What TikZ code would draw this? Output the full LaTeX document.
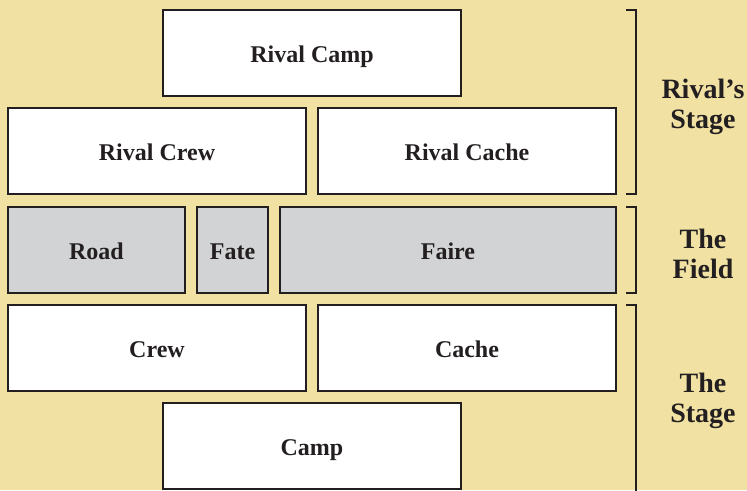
\documentclass[tikz,border=0pt]{standalone}
\usepackage{fontspec}
\setmainfont{Liberation Serif}
\definecolor{parch}{RGB}{241,226,164}
\definecolor{ink}{RGB}{35,31,32}
\definecolor{fieldgray}{RGB}{209,211,212}
\begin{document}
\begin{tikzpicture}[x=1pt,y=-1pt,
  zone/.style={draw=ink,line width=2.4pt,fill=white,font=\bfseries\fontsize{24}{26}\selectfont,text=ink,text height=18pt,text depth=0pt,inner ysep=0pt},
  fieldzone/.style={zone,fill=fieldgray},
  brk/.style={draw=ink,line width=2.4pt},
  sidelabel/.style={font=\bfseries\fontsize{28}{30}\selectfont,text=ink,align=center}]
\fill[parch] (0,0) rectangle (747,490);
\useasboundingbox (0,0) rectangle (747,490);
% boxes
\node[zone,minimum width=298,minimum height=86] (rcamp) at (312,53) {Rival Camp};
\node[zone,minimum width=298,minimum height=86] (rcrew) at (157,151) {Rival Crew};
\node[zone,minimum width=298,minimum height=86] (rcache) at (467,151) {Rival Cache};
\node[fieldzone,minimum width=177,minimum height=86] (road) at (96.5,250) {Road};
\node[fieldzone,minimum width=71,minimum height=86] (fate) at (232.5,250) {Fate};
\node[fieldzone,minimum width=336,minimum height=86] (faire) at (448,250) {Faire};
\node[zone,minimum width=298,minimum height=86] (crew) at (157,348) {Crew};
\node[zone,minimum width=298,minimum height=86] (cache) at (467,348) {Cache};
\node[zone,minimum width=298,minimum height=86] (camp) at (312,446) {Camp};
% brackets
\coordinate (b1t) at (636,10); \coordinate (b1b) at (636,194);
\coordinate (b2t) at (636,207); \coordinate (b2b) at (636,293);
\coordinate (b3t) at (636,305); \coordinate (b3b) at (636,495);
\draw[brk] ([xshift=-10]b1t) -- (b1t) -- (b1b) -- ([xshift=-10]b1b);
\draw[brk] ([xshift=-10]b2t) -- (b2t) -- (b2b) -- ([xshift=-10]b2b);
\draw[brk] ([xshift=-10]b3t) -- (b3t) -- (b3b);
% labels
\node[sidelabel] (lrival) at (703,107) {Rival’s\\Stage};
\node[sidelabel] (lfield) at (703,254) {The\\Field};
\node[sidelabel] (lstage) at (703,401) {The\\Stage};
\end{tikzpicture}
\end{document}
